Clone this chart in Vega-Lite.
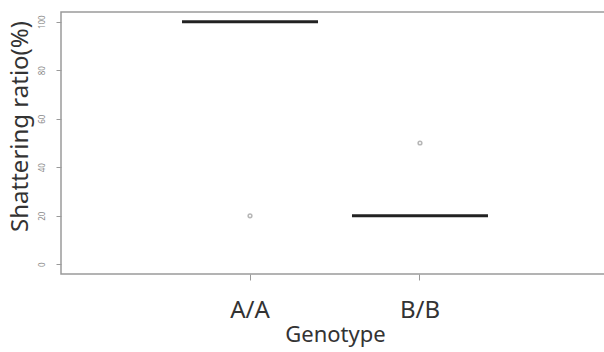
{
  "$schema": "https://vega.github.io/schema/vega-lite/v6.json",
  "width": 548,
  "height": 262,
  "autosize": {"type": "none"},
  "padding": {"left": 61, "top": 12, "right": 0, "bottom": 78},
  "background": "white",
  "config": {
    "view": {"stroke": "#9a9a9a", "strokeWidth": 1.5},
    "font": "Noto Sans"
  },
  "data": {
    "values": [
      {"Genotype": "A/A", "ratio": 100},
      {"Genotype": "A/A", "ratio": 100},
      {"Genotype": "A/A", "ratio": 100},
      {"Genotype": "A/A", "ratio": 100},
      {"Genotype": "A/A", "ratio": 20},
      {"Genotype": "B/B", "ratio": 20},
      {"Genotype": "B/B", "ratio": 20},
      {"Genotype": "B/B", "ratio": 20},
      {"Genotype": "B/B", "ratio": 20},
      {"Genotype": "B/B", "ratio": 50}
    ]
  },
  "mark": {
    "type": "boxplot",
    "extent": 1.5,
    "size": 136,
    "box": {"opacity": 0, "strokeOpacity": 0},
    "median": {"color": "#222222", "fill": "#222222", "thickness": 3, "opacity": 1},
    "rule": {"opacity": 0},
    "ticks": false,
    "outliers": {"color": "#999999", "size": 14, "strokeWidth": 1.5, "filled": false}
  },
  "encoding": {
    "x": {
      "field": "Genotype",
      "type": "nominal",
      "scale": {"type": "band", "paddingInner": 0, "paddingOuter": 0.612},
      "axis": {
        "title": "Genotype",
        "titleFontSize": 22,
        "titleFontWeight": "normal",
        "titleColor": "#333333",
        "titlePadding": 2,
        "labelFontSize": 24,
        "labelColor": "#333333",
        "labelAngle": 0,
        "labelPadding": 18,
        "domain": false,
        "tickColor": "#9a9a9a",
        "tickSize": 6,
        "grid": false
      }
    },
    "y": {
      "field": "ratio",
      "type": "quantitative",
      "scale": {"domain": [-4, 104], "nice": false, "zero": false},
      "axis": {
        "title": "Shattering ratio(%)",
        "values": [0, 20, 40, 60, 80, 100],
        "titleFontSize": 24,
        "titleFontWeight": "normal",
        "titleColor": "#333333",
        "titlePadding": 6,
        "titleY": 114,
        "labelAngle": -90,
        "labelFontSize": 8,
        "labelColor": "#888888",
        "labelPadding": 10,
        "domain": false,
        "tickColor": "#9a9a9a",
        "tickSize": 5,
        "grid": false
      }
    }
  }
}
